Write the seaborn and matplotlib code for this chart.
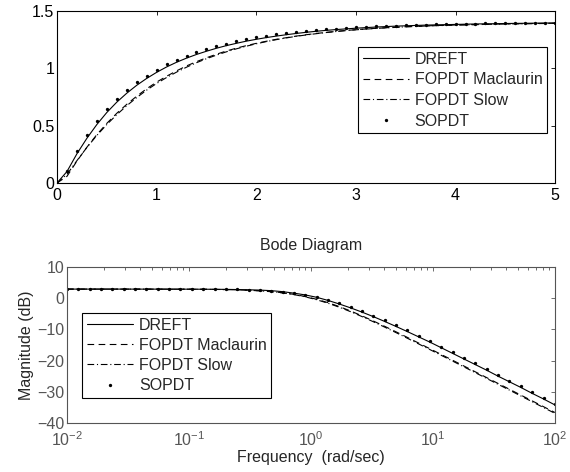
import numpy as np
import pandas as pd
import seaborn as sns
import matplotlib
matplotlib.use("Agg")
import matplotlib.pyplot as plt
from matplotlib.ticker import FuncFormatter, LogLocator, NullFormatter

# step response
t = [0.0, 0.1, 0.2, 0.3, 0.4, 0.5, 0.6, 0.7, 0.8, 0.9,
     1.0, 1.1, 1.2, 1.3, 1.4, 1.5, 1.6, 1.7, 1.8, 1.9,
     2.0, 2.1, 2.2, 2.3, 2.4, 2.5, 2.6, 2.7, 2.8, 2.9,
     3.0, 3.1, 3.2, 3.3, 3.4, 3.5, 3.6, 3.7, 3.8, 3.9,
     4.0, 4.1, 4.2, 4.3, 4.4, 4.5, 4.6, 4.7, 4.8, 4.9, 5.0]
step_dreft = [0.0, 0.100, 0.255, 0.390, 0.510, 0.615, 0.705, 0.783, 0.852, 0.912,
              0.965, 1.012, 1.053, 1.089, 1.121, 1.149, 1.175, 1.198, 1.218, 1.237,
              1.253, 1.268, 1.281, 1.293, 1.304, 1.314, 1.323, 1.331, 1.338, 1.344,
              1.350, 1.355, 1.360, 1.364, 1.368, 1.371, 1.374, 1.377, 1.379, 1.381,
              1.383, 1.385, 1.387, 1.388, 1.389, 1.391, 1.392, 1.393, 1.394, 1.395, 1.396]
step_maclaurin = [0.0, 0.058, 0.191, 0.312, 0.422, 0.520, 0.608, 0.686, 0.757, 0.822,
                  0.880, 0.931, 0.978, 1.021, 1.058, 1.092, 1.123, 1.151, 1.176, 1.198,
                  1.218, 1.236, 1.253, 1.267, 1.281, 1.293, 1.304, 1.313, 1.322, 1.330,
                  1.337, 1.343, 1.349, 1.354, 1.358, 1.363, 1.366, 1.370, 1.373, 1.375,
                  1.378, 1.380, 1.382, 1.384, 1.386, 1.387, 1.389, 1.390, 1.391, 1.392, 1.393]
step_slow = [0.0, 0.075, 0.195, 0.310, 0.415, 0.510, 0.596, 0.674, 0.745, 0.810,
             0.868, 0.920, 0.967, 1.010, 1.049, 1.084, 1.115, 1.144, 1.170, 1.193,
             1.214, 1.233, 1.250, 1.265, 1.279, 1.291, 1.302, 1.312, 1.321, 1.329,
             1.336, 1.342, 1.348, 1.353, 1.357, 1.362, 1.365, 1.369, 1.372, 1.374,
             1.377, 1.379, 1.381, 1.383, 1.385, 1.386, 1.388, 1.389, 1.390, 1.391, 1.392]
step_sopdt = [0.0, 0.105, 0.277, 0.420, 0.541, 0.645, 0.735, 0.811, 0.879, 0.937,
              0.989, 1.035, 1.073, 1.107, 1.139, 1.166, 1.192, 1.215, 1.235, 1.253,
              1.270, 1.284, 1.296, 1.307, 1.317, 1.326, 1.334, 1.341, 1.347, 1.353,
              1.358, 1.362, 1.366, 1.370, 1.373, 1.376, 1.379, 1.381, 1.383, 1.385,
              1.387, 1.389, 1.390, 1.391, 1.392, 1.393, 1.394, 1.395, 1.396, 1.397, 1.397]

# bode magnitude in dB
freq = [0.01, 0.01239, 0.01535, 0.01902, 0.02357, 0.02920, 0.03617, 0.04482, 0.05553, 0.06879,
        0.08523, 0.1056, 0.1308, 0.1620, 0.2007, 0.2487, 0.3081, 0.3817, 0.4729, 0.5859,
        0.7259, 0.8993, 1.112, 1.378, 1.707, 2.115, 2.620, 3.246, 4.022, 4.983,
        6.173, 7.648, 9.475, 11.74, 14.54, 18.01, 22.32, 27.65, 34.25, 42.44,
        52.57, 65.14, 80.70, 100.0]
mag_dreft = [2.92, 2.92, 2.92, 2.92, 2.92, 2.92, 2.91, 2.91, 2.91, 2.90,
             2.90, 2.89, 2.88, 2.86, 2.83, 2.78, 2.70, 2.60, 2.42, 2.10,
             1.62, 1.05, 0.30, -0.70, -1.85, -3.10, -4.45, -5.90, -7.45, -9.05,
             -10.7, -12.4, -14.1, -15.9, -17.7, -19.5, -21.3, -23.1, -25.0, -26.8,
             -28.6, -30.5, -32.3, -34.2]
mag_maclaurin = [2.92, 2.92, 2.92, 2.92, 2.92, 2.92, 2.91, 2.91, 2.91, 2.90,
                 2.89, 2.88, 2.85, 2.82, 2.77, 2.68, 2.56, 2.38, 2.12, 1.75,
                 1.23, 0.54, -0.34, -1.42, -2.68, -4.10, -5.65, -7.30, -9.01, -10.77,
                 -12.56, -14.39, -16.22, -18.06, -19.91, -21.76, -23.62, -25.47, -27.33, -29.19,
                 -31.05, -32.91, -34.77, -36.63]
mag_slow = [2.92, 2.92, 2.92, 2.92, 2.92, 2.92, 2.91, 2.91, 2.91, 2.90,
            2.89, 2.88, 2.85, 2.82, 2.76, 2.67, 2.54, 2.36, 2.08, 1.70,
            1.16, 0.44, -0.48, -1.60, -2.88, -4.32, -5.88, -7.54, -9.26, -11.03,
            -12.83, -14.66, -16.49, -18.33, -20.18, -22.03, -23.89, -25.74, -27.60, -29.46,
            -31.32, -33.18, -35.04, -36.90]
mag_sopdt = [2.92, 2.92, 2.92, 2.92, 2.92, 2.92, 2.91, 2.91, 2.91, 2.90,
             2.90, 2.89, 2.89, 2.87, 2.85, 2.82, 2.75, 2.62, 2.45, 2.15,
             1.70, 1.15, 0.45, -0.55, -1.65, -2.90, -4.20, -5.60, -7.10, -8.70,
             -10.3, -12.0, -13.7, -15.5, -17.3, -19.1, -20.9, -22.7, -24.6, -26.4,
             -28.2, -30.1, -31.9, -33.8]

labels = ["DREFT", "FOPDT Maclaurin", "FOPDT Slow", "SOPDT"]

fs = 11.5
sns.set_style("white")
plt.rcParams["font.family"] = ["Liberation Sans", "DejaVu Sans"]
plt.rcParams["font.size"] = fs
plt.rcParams["xtick.direction"] = "in"
plt.rcParams["ytick.direction"] = "in"

fig = plt.figure(figsize=(5.7, 4.72), dpi=100)
ax1 = fig.add_axes([0.1, 0.6123, 0.874, 0.3644])
ax2 = fig.add_axes([0.1175, 0.1038, 0.856, 0.3305])

lw = 0.8


def draw(ax, x, ys):
    sns.lineplot(x=x, y=ys[0], ax=ax, color="k", lw=lw, label=labels[0])
    sns.lineplot(x=x, y=ys[1], ax=ax, color="k", lw=lw, dashes=False,
                 linestyle=(0, (6, 4)), label=labels[1])
    sns.lineplot(x=x, y=ys[2], ax=ax, color="k", lw=lw, dashes=False,
                 linestyle=(0, (6, 2.5, 1, 2.5)), label=labels[2])
    sns.lineplot(x=x, y=ys[3], ax=ax, color="k", lw=0, marker="o",
                 markersize=2.4, markeredgewidth=0, label=labels[3])


draw(ax1, t, [step_dreft, step_maclaurin, step_slow, step_sopdt])
ax1.set_xlim(0, 5)
ax1.set_ylim(0, 1.5)
ax1.set_xticks([0, 1, 2, 3, 4, 5])
ax1.set_yticks([0, 0.5, 1, 1.5])
ax1.yaxis.set_major_formatter(FuncFormatter(lambda v, p: "%g" % v))
ax1.tick_params(top=True, right=True, length=3, width=0.6, labelsize=fs, colors="k")
ax1.tick_params(axis="y", pad=2)
ax1.tick_params(axis="x", pad=3.5)
for s in ax1.spines.values():
    s.set_color("k")
    s.set_linewidth(0.8)
ax1.set_xlabel("")
ax1.set_ylabel("")
leg1 = ax1.legend(loc="upper left", bbox_to_anchor=(0.604, 0.79), borderaxespad=0,
                  fancybox=False, framealpha=1, edgecolor="k", handlelength=2.9,
                  labelspacing=0.35, handletextpad=0.35, borderpad=0.3, fontsize=fs)
leg1.get_frame().set_linewidth(0.8)

draw(ax2, freq, [mag_dreft, mag_maclaurin, mag_slow, mag_sopdt])
ax2.set_xscale("log")
ax2.set_xlim(0.01, 100)
ax2.set_ylim(-40, 10)
ax2.set_yticks([-40, -30, -20, -10, 0, 10])
ax2.xaxis.set_minor_locator(LogLocator(base=10, subs=np.arange(2, 10), numticks=20))
ax2.xaxis.set_minor_formatter(NullFormatter())
gray = "#555555"
ax2.tick_params(which="both", top=True, right=True, width=0.6, labelsize=fs,
                colors=gray, labelcolor=gray)
ax2.tick_params(axis="y", pad=2)
ax2.tick_params(axis="x", pad=5)
ax2.tick_params(which="major", length=3)
ax2.tick_params(which="minor", length=1.8)
for s in ax2.spines.values():
    s.set_color(gray)
    s.set_linewidth(0.8)
ax2.set_title("Bode Diagram", fontsize=fs, pad=12)
ax2.set_xlabel("Frequency  (rad/sec)", fontsize=fs, labelpad=1)
ax2.set_ylabel("Magnitude (dB)", fontsize=fs, labelpad=2)
leg2 = ax2.legend(loc="upper left", bbox_to_anchor=(0.031, 0.705), borderaxespad=0,
                  fancybox=False, framealpha=1, edgecolor="k", handlelength=2.9,
                  labelspacing=0.32, handletextpad=0.35, borderpad=0.3, fontsize=fs)
leg2.get_frame().set_linewidth(0.8)

fig.savefig("out.png", dpi=100)
